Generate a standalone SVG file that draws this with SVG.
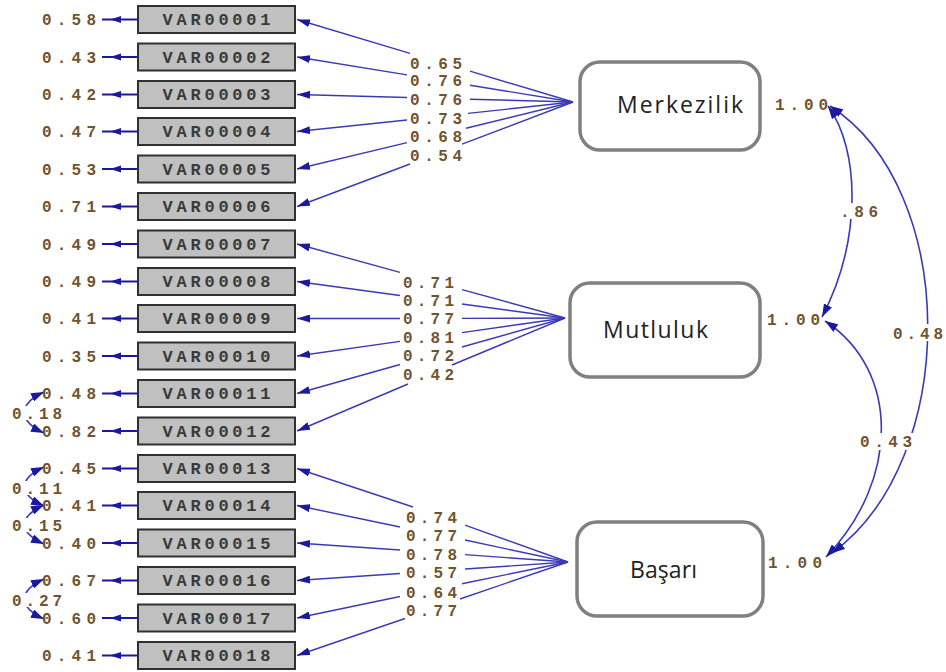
<svg xmlns="http://www.w3.org/2000/svg" xmlns:xlink="http://www.w3.org/1999/xlink" width="946" height="672" viewBox="0 0 946 672">
<defs>
<style>
.box{fill:#c0c0c0;stroke:#303030;stroke-width:2}
.bt{font-family:"Liberation Mono",monospace;font-weight:bold;font-size:17px;fill:#3a3a3a;text-anchor:middle}
.num{font-family:"Liberation Mono",monospace;font-weight:bold;font-size:16px;fill:#6e5530}
.lat{fill:#ffffff;stroke:#808080;stroke-width:3.5}
.lt{font-family:"Open Sans","Liberation Sans",sans-serif;font-size:23px;fill:#222222}
.ln{stroke:#3a3ab8;stroke-width:1.4;fill:none}
.la{stroke:#3a3ab8;stroke-width:1.4;fill:none;marker-end:url(#ah)}
.cv{stroke:#3a3ab8;stroke-width:1.6;fill:none;marker-start:url(#ah2);marker-end:url(#ah2)}
.ea{stroke:#1a1aa0;stroke-width:2}
.wb{fill:#ffffff}
</style>
<marker id="ah" markerUnits="userSpaceOnUse" markerWidth="13" markerHeight="8" refX="13" refY="4" orient="auto"><path d="M0,0 L13,4 L0,8 z" fill="#1a1aa0"/></marker>
<marker id="ah2" markerUnits="userSpaceOnUse" markerWidth="13" markerHeight="9" refX="13" refY="4.5" orient="auto-start-reverse"><path d="M0,0 L13,4.5 L0,9 z" fill="#1a1aa0"/></marker>
<path id="eh" d="M0,0 l11,-3.5 v7 z" fill="#1a1aa0"/>
</defs>
<rect width="946" height="672" fill="#ffffff"/>

<g id="connectors">
<g class="ea">
<line x1="102" y1="19.5" x2="138" y2="19.5"/><line x1="102" y1="57" x2="138" y2="57"/><line x1="102" y1="94.5" x2="138" y2="94.5"/><line x1="102" y1="131.5" x2="138" y2="131.5"/><line x1="102" y1="169" x2="138" y2="169"/><line x1="102" y1="206.5" x2="138" y2="206.5"/>
<line x1="102" y1="244" x2="138" y2="244"/><line x1="102" y1="281.5" x2="138" y2="281.5"/><line x1="102" y1="318.5" x2="138" y2="318.5"/><line x1="102" y1="356" x2="138" y2="356"/><line x1="102" y1="393.5" x2="138" y2="393.5"/><line x1="102" y1="431" x2="138" y2="431"/>
<line x1="102" y1="468.5" x2="138" y2="468.5"/><line x1="102" y1="505.5" x2="138" y2="505.5"/><line x1="102" y1="543" x2="138" y2="543"/><line x1="102" y1="580.5" x2="138" y2="580.5"/><line x1="102" y1="618" x2="138" y2="618"/><line x1="102" y1="655.5" x2="138" y2="655.5"/>
</g>
<use xlink:href="#eh" x="110" y="19.5"/><use xlink:href="#eh" x="110" y="57"/><use xlink:href="#eh" x="110" y="94.5"/><use xlink:href="#eh" x="110" y="131.5"/><use xlink:href="#eh" x="110" y="169"/><use xlink:href="#eh" x="110" y="206.5"/>
<use xlink:href="#eh" x="110" y="244"/><use xlink:href="#eh" x="110" y="281.5"/><use xlink:href="#eh" x="110" y="318.5"/><use xlink:href="#eh" x="110" y="356"/><use xlink:href="#eh" x="110" y="393.5"/><use xlink:href="#eh" x="110" y="431"/>
<use xlink:href="#eh" x="110" y="468.5"/><use xlink:href="#eh" x="110" y="505.5"/><use xlink:href="#eh" x="110" y="543"/><use xlink:href="#eh" x="110" y="580.5"/><use xlink:href="#eh" x="110" y="618"/><use xlink:href="#eh" x="110" y="655.5"/>

<line class="ln" x1="573" y1="102" x2="470" y2="71.2"/><line class="la" x1="410" y1="53.3" x2="297" y2="19.5"/>
<line class="ln" x1="573" y1="102" x2="470" y2="85.2"/><line class="la" x1="407" y1="74.9" x2="297" y2="57"/>
<line class="ln" x1="573" y1="102" x2="470" y2="99.2"/><line class="la" x1="407" y1="97.5" x2="297" y2="94.5"/>
<line class="ln" x1="573" y1="102" x2="468" y2="113.4"/><line class="la" x1="407" y1="120" x2="297" y2="131.5"/>
<line class="ln" x1="573" y1="102" x2="466" y2="128.2"/><line class="la" x1="407" y1="142.6" x2="297" y2="169"/>
<line class="ln" x1="573" y1="102" x2="462" y2="144.2"/><line class="la" x1="410" y1="164" x2="297" y2="206.5"/>

<line class="ln" x1="565" y1="318" x2="462" y2="289.6"/><line class="la" x1="400" y1="272.4" x2="297" y2="244"/>
<line class="ln" x1="565" y1="318" x2="462" y2="304"/><line class="la" x1="400" y1="295.5" x2="297" y2="281.5"/>
<line class="ln" x1="565" y1="318" x2="462" y2="318.4"/><line class="la" x1="400" y1="318.5" x2="297" y2="318.5"/>
<line class="ln" x1="565" y1="318" x2="462" y2="332.6"/><line class="la" x1="400" y1="341.4" x2="297" y2="356"/>
<line class="ln" x1="565" y1="318" x2="462" y2="347"/><line class="la" x1="400" y1="364.5" x2="297" y2="393.5"/>
<line class="ln" x1="565" y1="318" x2="452" y2="365"/><line class="la" x1="408" y1="384" x2="297" y2="431"/>

<line class="ln" x1="568" y1="562" x2="465" y2="525.2"/><line class="la" x1="413" y1="507" x2="297" y2="468.5"/>
<line class="ln" x1="568" y1="562" x2="465" y2="540"/><line class="la" x1="400" y1="527" x2="297" y2="505.5"/>
<line class="ln" x1="568" y1="562" x2="465" y2="554.6"/><line class="la" x1="400" y1="550" x2="297" y2="543"/>
<line class="ln" x1="568" y1="562" x2="465" y2="569"/><line class="la" x1="400" y1="573.5" x2="297" y2="580.5"/>
<line class="ln" x1="568" y1="562" x2="462" y2="583.7"/><line class="la" x1="400" y1="596.5" x2="297" y2="618"/>
<line class="ln" x1="568" y1="562" x2="460" y2="599"/><line class="la" x1="405" y1="618.5" x2="297" y2="655.5"/>

<path class="cv" d="M828,106 C860,150 862,240 822,317"/>
<path class="cv" d="M825,321 C900,370 900,480 826,557"/>
<path class="cv" d="M830,106 C960,190 960,460 832,553"/>

<path class="cv" d="M44,392 C18,404 18,421 44,433"/>
<path class="cv" d="M44,467 C18,479 18,494 44,506"/>
<path class="cv" d="M44,505 C18,517 18,532 44,544"/>
<path class="cv" d="M44,579 C18,591 18,607 44,619"/>
</g>

<g id="label-backgrounds">
<rect class="wb" x="838" y="203" width="44" height="16"/>
<rect class="wb" x="857" y="433" width="58" height="17"/>
<rect class="wb" x="890" y="324" width="56" height="17"/>
<rect class="wb" x="8" y="406" width="58" height="14"/>
<rect class="wb" x="8" y="481" width="58" height="14"/>
<rect class="wb" x="8" y="518" width="58" height="14"/>
<rect class="wb" x="8" y="593" width="58" height="14"/>
</g>

<g id="var01"><rect class="box" x="138" y="6" width="157" height="27"/><text class="bt" x="216.5" y="25" textLength="108">VAR00001</text></g>
<g id="var02"><rect class="box" x="138" y="43.5" width="157" height="27"/><text class="bt" x="216.5" y="62.5" textLength="108">VAR00002</text></g>
<g id="var03"><rect class="box" x="138" y="81" width="157" height="27"/><text class="bt" x="216.5" y="100" textLength="108">VAR00003</text></g>
<g id="var04"><rect class="box" x="138" y="118" width="157" height="27"/><text class="bt" x="216.5" y="137" textLength="108">VAR00004</text></g>
<g id="var05"><rect class="box" x="138" y="155.5" width="157" height="27"/><text class="bt" x="216.5" y="174.5" textLength="108">VAR00005</text></g>
<g id="var06"><rect class="box" x="138" y="193" width="157" height="27"/><text class="bt" x="216.5" y="212" textLength="108">VAR00006</text></g>
<g id="var07"><rect class="box" x="138" y="230.5" width="157" height="27"/><text class="bt" x="216.5" y="249.5" textLength="108">VAR00007</text></g>
<g id="var08"><rect class="box" x="138" y="268" width="157" height="27"/><text class="bt" x="216.5" y="287" textLength="108">VAR00008</text></g>
<g id="var09"><rect class="box" x="138" y="305" width="157" height="27"/><text class="bt" x="216.5" y="324" textLength="108">VAR00009</text></g>
<g id="var10"><rect class="box" x="138" y="342.5" width="157" height="27"/><text class="bt" x="216.5" y="361.5" textLength="108">VAR00010</text></g>
<g id="var11"><rect class="box" x="138" y="380" width="157" height="27"/><text class="bt" x="216.5" y="399" textLength="108">VAR00011</text></g>
<g id="var12"><rect class="box" x="138" y="417.5" width="157" height="27"/><text class="bt" x="216.5" y="436.5" textLength="108">VAR00012</text></g>
<g id="var13"><rect class="box" x="138" y="455" width="157" height="27"/><text class="bt" x="216.5" y="474" textLength="108">VAR00013</text></g>
<g id="var14"><rect class="box" x="138" y="492" width="157" height="27"/><text class="bt" x="216.5" y="511" textLength="108">VAR00014</text></g>
<g id="var15"><rect class="box" x="138" y="529.5" width="157" height="27"/><text class="bt" x="216.5" y="548.5" textLength="108">VAR00015</text></g>
<g id="var16"><rect class="box" x="138" y="567" width="157" height="27"/><text class="bt" x="216.5" y="586" textLength="108">VAR00016</text></g>
<g id="var17"><rect class="box" x="138" y="604.5" width="157" height="27"/><text class="bt" x="216.5" y="623.5" textLength="108">VAR00017</text></g>
<g id="var18"><rect class="box" x="138" y="642" width="157" height="27"/><text class="bt" x="216.5" y="661" textLength="108">VAR00018</text></g>

<g id="merkezilik"><rect class="lat" x="580" y="62" width="180" height="88" rx="20"/><text class="lt" x="617" y="113" textLength="126">Merkezilik</text></g>
<g id="mutluluk"><rect class="lat" x="570" y="283" width="190" height="94" rx="20"/><text class="lt" x="603" y="338" textLength="105">Mutluluk</text></g>
<g id="basari"><rect class="lat" x="577" y="522" width="186" height="94" rx="20"/><text class="lt" x="630" y="578" textLength="67">Başarı</text></g>

<g id="labels" class="num">
<text x="42" y="25" textLength="54">0.58</text>
<text x="42" y="62.5" textLength="54">0.43</text>
<text x="42" y="100" textLength="54">0.42</text>
<text x="42" y="137" textLength="54">0.47</text>
<text x="42" y="174.5" textLength="54">0.53</text>
<text x="42" y="212" textLength="54">0.71</text>
<text x="42" y="249.5" textLength="54">0.49</text>
<text x="42" y="287" textLength="54">0.49</text>
<text x="42" y="324" textLength="54">0.41</text>
<text x="42" y="361.5" textLength="54">0.35</text>
<text x="42" y="399" textLength="54">0.48</text>
<text x="42" y="436.5" textLength="54">0.82</text>
<text x="42" y="474" textLength="54">0.45</text>
<text x="42" y="511" textLength="54">0.41</text>
<text x="42" y="548.5" textLength="54">0.40</text>
<text x="42" y="586" textLength="54">0.67</text>
<text x="42" y="623.5" textLength="54">0.60</text>
<text x="42" y="661" textLength="54">0.41</text>

<text x="12" y="418.5" textLength="50">0.18</text>
<text x="12" y="493.5" textLength="50">0.11</text>
<text x="12" y="530.5" textLength="50">0.15</text>
<text x="12" y="605.5" textLength="50">0.27</text>

<text x="410" y="68.5" textLength="52">0.65</text>
<text x="410" y="85.5" textLength="52">0.76</text>
<text x="410" y="104.5" textLength="52">0.76</text>
<text x="410" y="123.5" textLength="52">0.73</text>
<text x="410" y="141.5" textLength="52">0.68</text>
<text x="410" y="160.5" textLength="52">0.54</text>

<text x="403" y="287.5" textLength="51">0.71</text>
<text x="403" y="305.5" textLength="51">0.71</text>
<text x="403" y="323.5" textLength="51">0.77</text>
<text x="403" y="342.5" textLength="51">0.81</text>
<text x="403" y="360.5" textLength="51">0.72</text>
<text x="403" y="379.5" textLength="51">0.42</text>

<text x="406" y="522.5" textLength="51">0.74</text>
<text x="406" y="540.5" textLength="51">0.77</text>
<text x="406" y="559.5" textLength="51">0.78</text>
<text x="406" y="577.5" textLength="51">0.57</text>
<text x="406" y="597.5" textLength="51">0.64</text>
<text x="406" y="615.5" textLength="51">0.77</text>

<text x="775" y="109.5" textLength="53">1.00</text>
<text x="767" y="324.5" textLength="53">1.00</text>
<text x="768" y="567.5" textLength="54">1.00</text>
<text x="840" y="216.5" textLength="38">.86</text>
<text x="860" y="446.5" textLength="52">0.43</text>
<text x="893" y="338.5" textLength="50">0.48</text>
</g>
</svg>
